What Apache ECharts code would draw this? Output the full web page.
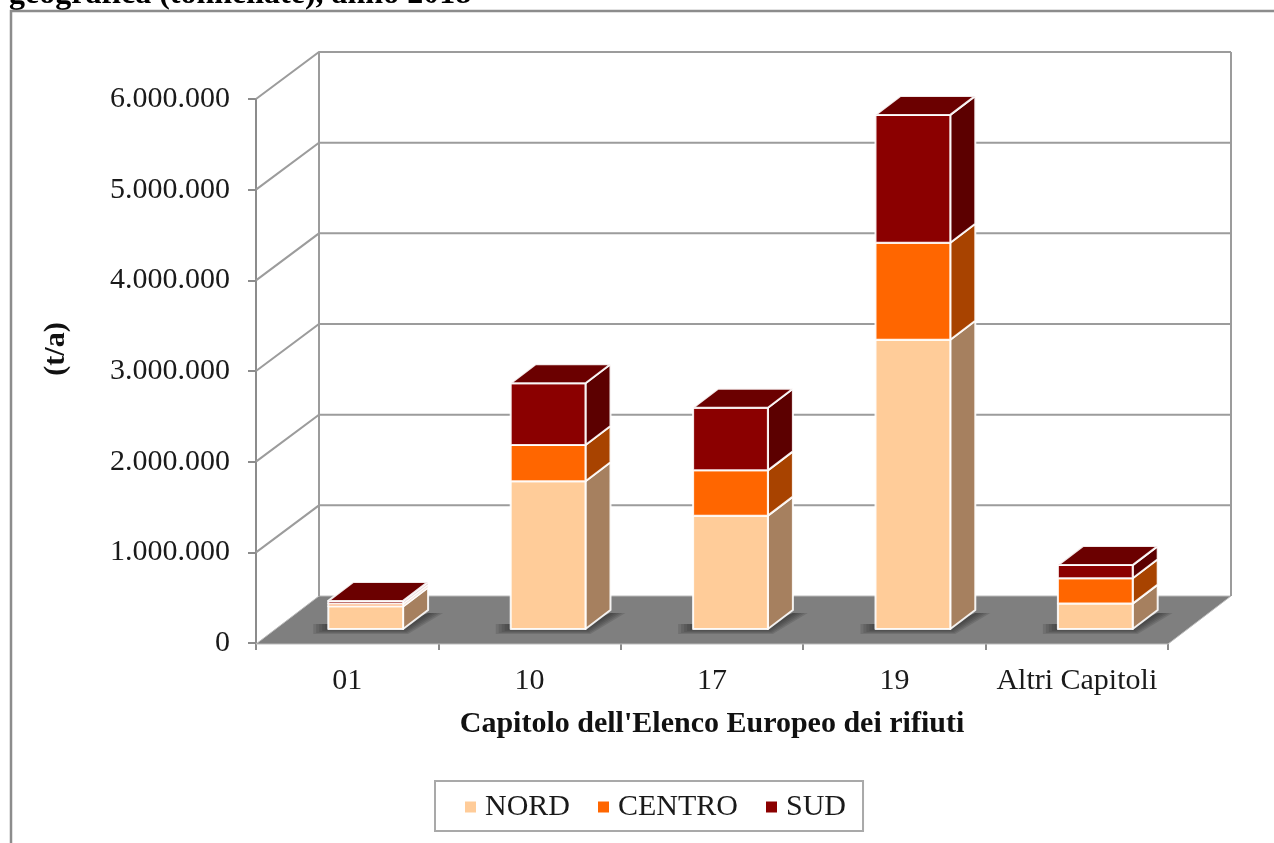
<!DOCTYPE html>
<html><head><meta charset="utf-8">
<style>html,body{margin:0;padding:0;background:#fff}#c{width:1274px;height:843px}</style>
<script src="https://cdn.jsdelivr.net/npm/echarts@6/dist/echarts.min.js"></script>
</head><body><div id="c"></div>
<script>
const categories = ['01','10','17','19','Altri Capitoli'];
const nord   = [250000, 1630000, 1250000, 3190000, 280000];
const centro = [ 30000,  400000,  500000, 1070000, 280000];
const sud    = [ 30000,  680000,  690000, 1410000, 145000];
const yTicks = [0,1000000,2000000,3000000,4000000,5000000,6000000];
const FONT = '"Liberation Serif","Times New Roman",serif';
const DEPTH = [63,-47], BAR_OFF = [18.5,-14], BAR_DEPTH = [25,-19];
const GRID = '#9c9c9c';

const chart = echarts.init(document.getElementById('c'),null,{renderer:'canvas'});

function stackSeries(name, front, side, top, values, below, isTop){
  return {
    name, type:'custom', coordinateSystem:'cartesian2d', z:5,
    itemStyle:{color:front},
    data: values.map((v,i)=>[i, below[i], below[i]+v]),
    encode:{x:0,y:[1,2]},
    renderItem(params,api){
      const i=api.value(0);
      const w=api.size([1,0])[0]*0.41;
      const a=api.coord([i,api.value(1)]), b=api.coord([i,api.value(2)]);
      const xl=a[0]-w/2+BAR_OFF[0], xr=xl+w, yb=a[1]+BAR_OFF[1], yt=b[1]+BAR_OFF[1];
      const dx=BAR_DEPTH[0], dy=BAR_DEPTH[1];
      const edge={stroke:'rgba(255,255,255,0.9)',lineWidth:2,lineJoin:'round'};
      const kids=[
        {type:'polygon',shape:{points:[[xr,yb],[xr+dx,yb+dy],[xr+dx,yt+dy],[xr,yt]]},style:Object.assign({fill:side},edge)},
        {type:'rect',shape:{x:xl,y:yt,width:w,height:yb-yt},style:Object.assign({fill:front},edge)}
      ];
      if(isTop) kids.push({type:'polygon',shape:{points:[[xl,yt],[xr,yt],[xr+dx,yt+dy],[xl+dx,yt+dy]]},style:Object.assign({fill:top},edge)});
      return {type:'group',children:kids};
    }
  };
}
const zero=categories.map(()=>0);
const nc=nord.map((v,i)=>v+centro[i]);

const wallSeries={
  type:'custom',coordinateSystem:'cartesian2d',z:2,silent:true,
  data:[[0]],encode:{x:0},
  renderItem(params,api){
    const first=api.coord([0,0]), band=api.size([1,0])[0];
    const x0=first[0]-band/2, x1=x0+band*categories.length;
    const y0=first[1], yMax=api.coord([0,6000000])[1];
    const dx=DEPTH[0], dy=DEPTH[1];
    const line={stroke:GRID,lineWidth:2,fill:null};
    const kids=[];
    kids.push({type:'polygon',shape:{points:[[x0,y0+1],[x0+dx,y0+dy],[x1+dx,y0+dy],[x1,y0+1]]},style:{fill:'#7f7f7f',stroke:'#bcbcbc',lineWidth:1}});
    yTicks.forEach(t=>{
      const y=api.coord([0,t])[1];
      if(t>0){
        kids.push({type:'polyline',shape:{points:[[x0,y],[x0+dx,y+dy],[x1+dx,y+dy]]},style:line});
      }
    });
    kids.push({type:'line',shape:{x1:x0+dx,y1:y0+dy,x2:x0+dx,y2:yMax+dy},style:line});
    kids.push({type:'line',shape:{x1:x1+dx,y1:y0+dy,x2:x1+dx,y2:yMax+dy},style:line});
    return {type:'group',children:kids};
  }
};
const shadowSeries={
  type:'custom',coordinateSystem:'cartesian2d',z:3,silent:true,
  data:categories.map((c,i)=>[i]),encode:{x:0},
  renderItem(params,api){
    const i=api.value(0);
    const w=api.size([1,0])[0]*0.41;
    const a=api.coord([i,0]);
    const xl=a[0]-w/2+BAR_OFF[0], xr=xl+w, yb=a[1]+BAR_OFF[1];
    const dx=BAR_DEPTH[0], dy=BAR_DEPTH[1];
    const kids=[];
    for(let k=5;k>=1;k--){
      kids.push({type:'polygon',shape:{points:[
        [xl-3*k,yb+k],[xr+k,yb+k],[xr+dx+3*k,yb+dy+3],[xr+dx,yb+dy+3],[xr,yb-5],[xl-3*k,yb-5]
      ]},style:{fill:'rgba(40,40,40,0.17)'}});
    }
    return {type:'group',children:kids};
  }
};

chart.setOption({
  animation:false,backgroundColor:'#fff',
  grid:{left:256,right:106,top:99,bottom:200,containLabel:false},
  xAxis:{type:'category',data:categories,boundaryGap:true,
    axisLine:{lineStyle:{color:'#bcbcbc',width:1}},
    axisTick:{show:true,length:7,lineStyle:{color:'#8c8c8c',width:2}},
    axisLabel:{fontFamily:FONT,fontSize:30,color:'#1a1a1a',margin:23,interval:0},
    name:"Capitolo dell'Elenco Europeo dei rifiuti",nameLocation:'middle',nameGap:66,
    nameTextStyle:{fontFamily:FONT,fontSize:30,fontWeight:'bold',color:'#111'}},
  yAxis:{type:'value',min:0,max:6000000,interval:1000000,
    splitLine:{show:false},
    axisLine:{show:true,lineStyle:{color:'#8c8c8c',width:2}},
    axisTick:{show:true,length:8,lineStyle:{color:'#8c8c8c',width:2}},
    axisLabel:{fontFamily:FONT,fontSize:30,color:'#1a1a1a',margin:26,
      formatter:v=>String(v).replace(/\B(?=(\d{3})+$)/g,'.')},
    name:'(t/a)',nameLocation:'middle',nameGap:185,nameRotate:90,
    nameTextStyle:{fontFamily:FONT,fontSize:30,fontWeight:'bold',color:'#111',padding:[0,0,0,44]}},
  legend:{data:['NORD','CENTRO','SUD'],selectedMode:false,left:435,top:781,
    orient:'horizontal',icon:'rect',itemWidth:11,itemHeight:11,itemGap:28,
    padding:[11,17,9,30],borderColor:'#a9a9a9',borderWidth:2,
    textStyle:{fontFamily:FONT,fontSize:30,color:'#1a1a1a',padding:[0,0,0,4]}},
  graphic:[
    {type:'polyline',silent:true,z:1,shape:{points:[[11,843],[11,11],[1274,11]]},style:{stroke:'#8c8c8c',lineWidth:2.5,fill:null}},
    {type:'text',silent:true,z:0,left:9,top:-21,style:{text:'geografica (tonnellate), anno 2018',fontFamily:FONT,fontSize:32,fontWeight:'bold',fill:'#000'}}
  ],
  series:[wallSeries,shadowSeries,
    stackSeries('NORD','#ffcc99','#a6805f','#cca37a',nord,zero,false),
    stackSeries('CENTRO','#ff6600','#a84300','#cc5200',centro,nord,false),
    stackSeries('SUD','#8b0000','#5c0000','#6b0000',sud,nc,true)
  ]
});
</script></body></html>
